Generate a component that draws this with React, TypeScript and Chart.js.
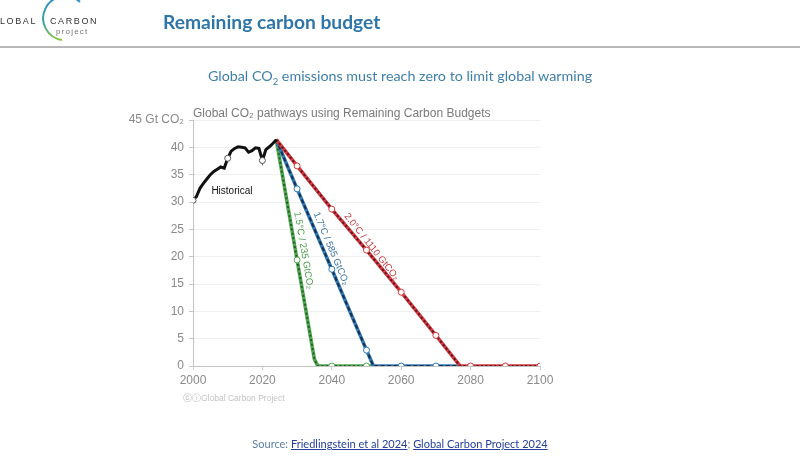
import React, { useEffect, useRef } from "react";
import { Chart, registerables } from "chart.js";

Chart.register(...registerables);

// ---------- data ----------
const histYears = [2000, 2001, 2002, 2003, 2004, 2005, 2006, 2007, 2008, 2009, 2010, 2011, 2012, 2013, 2014, 2015, 2016, 2017, 2018, 2019, 2020, 2021, 2022, 2023, 2024];
const histValues = [30.3, 31.0, 32.5, 33.4, 34.2, 35.0, 35.6, 36.0, 36.4, 36.2, 38.0, 39.3, 39.8, 40.1, 40.0, 39.9, 39.1, 39.4, 39.9, 39.8, 37.6, 39.6, 40.1, 40.7, 41.4];

const years15 = [2024, 2030, 2035, 2036, 2040, 2050, 2052];
const values15 = [41.4, 19.4, 1.2, 0, 0, 0, 0];

const years17 = [2024, 2030, 2040, 2050, 2052, 2060, 2070, 2077];
const values17 = [41.4, 32.4, 17.7, 2.9, 0, 0, 0, 0];

const years20 = [2024, 2030, 2040, 2050, 2060, 2070, 2077, 2080, 2090, 2100];
const values20 = [41.4, 36.6, 28.7, 21.2, 13.5, 5.6, 0, 0, 0, 0];

const xTicks = [2000, 2020, 2040, 2060, 2080, 2100];
const yTicks = [0, 5, 10, 15, 20, 25, 30, 35, 40, 45];

const label15 = "1.5°C / 235 GtCO₂";
const label17 = "1.7°C / 585 GtCO₂";
const label20 = "2.0°C / 1110 GtCO₂";
const histLabel = "Historical";
const chartTitle = "Global CO₂ pathways using Remaining Carbon Budgets";
const yUnit = "Gt CO₂";

const SANS = '"Liberation Sans", Arial, Helvetica, sans-serif';
const HEAD = 'Lato, "Open Sans", sans-serif';

const toXY = (xs: number[], ys: number[]) => xs.map((x, i) => ({ x, y: ys[i] }));
const markerRadius = (xs: number[]) => xs.map((x) => (x % 10 === 0 ? 3 : 0));

const series = [
  { years: years15, values: values15, color: "#4fa84f", dark: "#275a27", text: "#4a9a4a", label: label15, dash: [2, 2.5] },
  { years: years17, values: values17, color: "#3079b4", dark: "#172f4d", text: "#3a72a3", label: label17, dash: [4, 2.5] },
  { years: years20, values: values20, color: "#d43a40", dark: "#5e161c", text: "#c23a40", label: label20, dash: [2.2, 2.2] },
];

const labelPlugin = {
  id: "labels",
  afterDatasetsDraw(chart: any) {
    const { ctx, scales, chartArea } = chart;
    const xs = scales.x;
    const ys = scales.y;
    ctx.save();
    ctx.font = `12px ${SANS}`;
    ctx.fillStyle = "#7a7a7a";
    ctx.textAlign = "left";
    ctx.textBaseline = "middle";
    ctx.fillText(chartTitle, chartArea.left, chartArea.top - 6);

    ctx.font = `10px ${SANS}`;
    ctx.fillStyle = "#111";
    ctx.fillText(histLabel, xs.getPixelForValue(2005.3), ys.getPixelForValue(31.9));

    const labelValue = 20.9;
    ctx.font = `9.5px ${SANS}`;
    series.forEach((s) => {
      const x0 = xs.getPixelForValue(s.years[0]);
      const y0 = ys.getPixelForValue(s.values[0]);
      const x1 = xs.getPixelForValue(s.years[1]);
      const y1 = ys.getPixelForValue(s.values[1]);
      const angle = Math.atan2(y1 - y0, x1 - x0);
      const t = (s.values[0] - labelValue) / (s.values[0] - s.values[1]);
      const lx = x0 + (x1 - x0) * t;
      const ly = y0 + (y1 - y0) * t;
      ctx.save();
      ctx.translate(lx, ly);
      ctx.rotate(angle);
      ctx.fillStyle = s.text;
      ctx.textAlign = "center";
      ctx.textBaseline = "middle";
      ctx.fillText(s.label, 0, -8);
      ctx.restore();
    });
    ctx.restore();
  },
};

function ChartCanvas() {
  const ref = useRef<HTMLCanvasElement | null>(null);
  useEffect(() => {
    if (!ref.current) return;
    const datasets: any[] = [];
    datasets.push({
      data: toXY(histYears, histValues),
      borderColor: "#111",
      borderWidth: 3,
      pointRadius: markerRadius(histYears),
      pointBackgroundColor: "#fff",
      pointBorderColor: "#555",
      pointBorderWidth: 1,
      tension: 0,
      order: 0,
    });
    series.forEach((s, i) => {
      datasets.push({
        data: toXY(s.years, s.values),
        showLine: false,
        pointRadius: markerRadius(s.years),
        pointBackgroundColor: "#fff",
        pointBorderColor: s.color,
        pointBorderWidth: 1,
        order: 1,
      });
      datasets.push({
        data: toXY(s.years, s.values),
        borderColor: s.dark,
        borderWidth: 2,
        borderDash: s.dash,
        pointRadius: 0,
        tension: 0,
        order: 10 - i * 2,
      });
      datasets.push({
        data: toXY(s.years, s.values),
        borderColor: s.color,
        borderWidth: 3.6,
        pointRadius: 0,
        tension: 0,
        order: 11 - i * 2,
      });
    });

    const chart = new Chart(ref.current, {
      type: "line",
      data: { datasets },
      plugins: [labelPlugin],
      options: {
        animation: false,
        responsive: false,
        events: [],
        layout: { padding: { left: 0, top: 120, right: 260, bottom: 0 } },
        plugins: { legend: { display: false }, tooltip: { enabled: false }, title: { display: false } },
        scales: {
          x: {
            type: "linear",
            min: 2000,
            max: 2100,
            afterFit: (s: any) => { s.height = 94; },
            afterBuildTicks: (s: any) => { s.ticks = xTicks.map((v) => ({ value: v })); },
            ticks: { color: "#8a8a8a", font: { family: SANS, size: 12 }, padding: 3, maxRotation: 0, callback: (v: any) => String(v) },
            grid: { drawOnChartArea: false, drawTicks: true, tickLength: 4, tickColor: "#cfcfcf" },
            border: { display: true, color: "#c4c4c4", width: 1 },
          },
          y: {
            type: "linear",
            min: 0,
            max: 45,
            afterFit: (s: any) => { s.width = 193; },
            afterBuildTicks: (s: any) => { s.ticks = yTicks.map((v) => ({ value: v })); },
            ticks: {
              color: "#8a8a8a",
              font: { family: SANS, size: 12 },
              padding: 5,
              callback: (v: any) => (v === 45 ? `45 ${yUnit}` : String(v)),
            },
            grid: { color: "#efefef", tickLength: 4, tickColor: "#c4c4c4" },
            border: { display: true, color: "#c4c4c4", width: 1 },
          },
        },
      } as any,
    });
    return () => chart.destroy();
  }, []);
  return <canvas ref={ref} width={800} height={460} style={{ position: "absolute", left: 0, top: 0, width: 800, height: 460 }} />;
}

export default function App() {
  return (
    <div style={{ position: "absolute", left: 0, top: 0, width: 800, height: 460, background: "#fff", overflow: "hidden" }}>
      <ChartCanvas />
      <svg width={120} height={44} style={{ position: "absolute", left: 0, top: 0 }}>
        <defs>
          <linearGradient id="arcg" x1="0" y1="0" x2="0" y2="1">
            <stop offset="0%" stopColor="#2a8fc4" />
            <stop offset="60%" stopColor="#3aa6a0" />
            <stop offset="100%" stopColor="#8cc63f" />
          </linearGradient>
        </defs>
        <path d="M 80 2 A 22 22 0 1 0 62 40" fill="none" stroke="url(#arcg)" strokeWidth={2} />
      </svg>
      <div style={{ position: "absolute", left: 0, top: 16, fontFamily: SANS, fontSize: 9, letterSpacing: 1.6, color: "#333" }}>LOBAL</div>
      <div style={{ position: "absolute", left: 50, top: 16, fontFamily: SANS, fontSize: 9, letterSpacing: 1.6, color: "#333" }}>CARBON</div>
      <div style={{ position: "absolute", left: 56, top: 27, fontFamily: SANS, fontSize: 8, letterSpacing: 1.2, color: "#777" }}>project</div>
      <div style={{ position: "absolute", left: 163, top: 10, fontFamily: HEAD, fontWeight: 700, fontSize: 19.2, color: "#2f76a8", whiteSpace: "nowrap" }}>Remaining carbon budget</div>
      <div style={{ position: "absolute", left: 0, top: 46, width: 800, height: 2, background: "#b8b8b8" }} />
      <div style={{ position: "absolute", left: 0, top: 67, width: 800, textAlign: "center", fontFamily: HEAD, fontSize: 14.3, color: "#3f7fa8", whiteSpace: "nowrap" }}>
        Global CO<sub style={{ fontSize: 9.5 }}>2</sub> emissions must reach zero to limit global warming
      </div>
      <div style={{ position: "absolute", left: 183, top: 393, fontFamily: SANS, fontSize: 8.5, color: "#c2c2c2", whiteSpace: "nowrap" }}>ⓒⓘGlobal Carbon Project</div>
      <div style={{ position: "absolute", left: 0, top: 437, width: 800, textAlign: "center", fontFamily: HEAD, fontSize: 11, color: "#5b7fa6", whiteSpace: "nowrap" }}>
        Source: <span style={{ color: "#26409a", textDecoration: "underline" }}>Friedlingstein et al 2024</span>; <span style={{ color: "#26409a", textDecoration: "underline" }}>Global Carbon Project 2024</span>
      </div>
    </div>
  );
}
